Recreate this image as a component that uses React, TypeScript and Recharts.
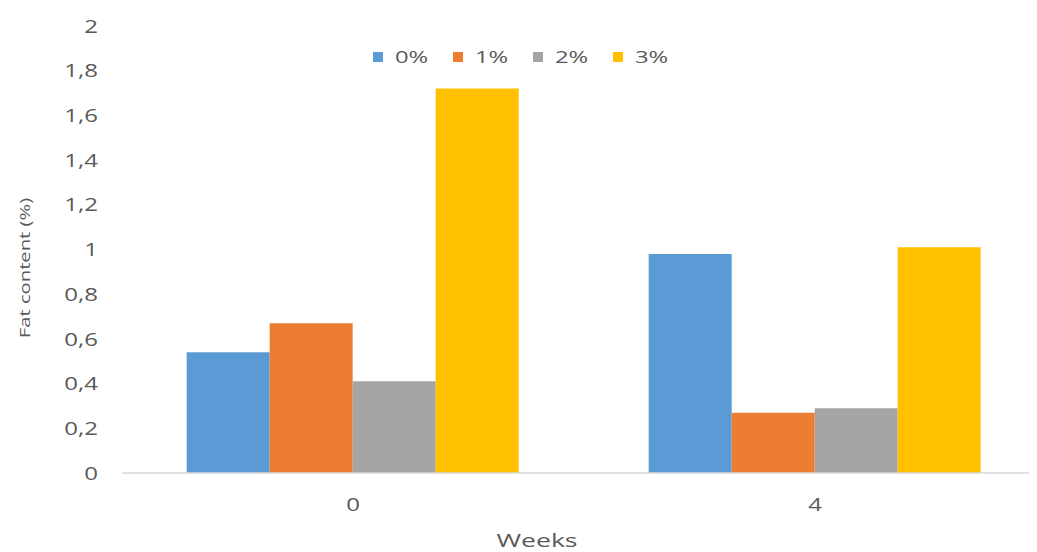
import React from 'react';
import { BarChart, Bar, XAxis, YAxis, Legend } from 'recharts';

const weeks = ['0', '4'];
const seriesNames = ['0%', '1%', '2%', '3%'];
const series0 = [0.54, 0.98];
const series1 = [0.67, 0.27];
const series2 = [0.41, 0.29];
const series3 = [1.72, 1.01];
const yTicks = [0, 0.2, 0.4, 0.6, 0.8, 1, 1.2, 1.4, 1.6, 1.8, 2];
const yTickLabels = ['0', '0,2', '0,4', '0,6', '0,8', '1', '1,2', '1,4', '1,6', '1,8', '2'];
const colors = ['#5B9BD5', '#ED7D31', '#A5A5A5', '#FFC000'];
const yTitle = 'Fat content (%)';
const xTitle = 'Weeks';

const seriesValues = [series0, series1, series2, series3];
const data = weeks.map((w, i) => {
  const row: Record<string, string | number> = { week: w };
  seriesNames.forEach((s, k) => {
    row[s] = seriesValues[k][i];
  });
  return row;
});

const FONT = '"Open Sans", sans-serif';
const TEXT = '#595959';

const YTick = (props: any) => {
  const { x, y, payload } = props;
  const idx = yTicks.findIndex((t) => Math.abs(t - payload.value) < 1e-9);
  const label = idx >= 0 ? yTickLabels[idx] : String(payload.value);
  return (
    <g transform={`translate(${x},${y})`}>
      <text transform="scale(1.3,1)" textAnchor="end" dy="0.36em" fill={TEXT} fontSize={18.5} fontFamily={FONT}>
        {label}
      </text>
    </g>
  );
};

const XTick = (props: any) => {
  const { x, y, payload } = props;
  return (
    <g transform={`translate(${x},${y})`}>
      <text transform="scale(1.3,1)" textAnchor="middle" dy="0.71em" fill={TEXT} fontSize={18.5} fontFamily={FONT}>
        {payload.value}
      </text>
    </g>
  );
};

const LegendContent = (props: any) => {
  const { payload } = props;
  return (
    <div style={{ display: 'flex', alignItems: 'center', height: 22 }}>
      {(payload || []).map((p: any) => (
        <div key={p.value} style={{ width: 80, display: 'flex', alignItems: 'center' }}>
          <span style={{ width: 10, height: 10, background: p.color, display: 'inline-block', marginRight: 12 }} />
          <span
            style={{
              display: 'inline-block',
              transform: 'scale(1.4,1)',
              transformOrigin: 'left center',
              fontFamily: FONT,
              fontSize: 17,
              color: TEXT,
              lineHeight: '22px',
            }}
          >
            {p.value}
          </span>
        </div>
      ))}
    </div>
  );
};

export default function App() {
  return (
    <div style={{ width: 1029, height: 544, overflow: 'hidden', background: '#fff' }}>
      <BarChart
        width={1050}
        height={544}
        data={data}
        margin={{ top: 18, right: 12, bottom: 19, left: 0 }}
        barCategoryGap="14%"
        barGap={0}
      >
        <XAxis
          dataKey="week"
          height={60}
          axisLine={{ stroke: '#D9D9D9', strokeWidth: 1.5 }}
          tickLine={false}
          tickSize={0}
          tickMargin={25}
          tick={<XTick />}
          label={{
            content: (p: any) => {
              const vb = p.viewBox || { y: 465 };
              return (
                <text
                  transform={`translate(529,${vb.y + 74}) scale(1.4,1)`}
                  textAnchor="middle"
                  fill={TEXT}
                  fontSize={19}
                  fontFamily={FONT}
                >
                  {xTitle}
                </text>
              );
            },
          }}
        />
        <YAxis
          width={114}
          domain={[0, 2]}
          ticks={yTicks}
          interval={0}
          axisLine={false}
          tickLine={false}
          tickSize={0}
          tickMargin={24}
          tick={<YTick />}
          label={{
            content: () => (
              <text
                transform="translate(17,260) rotate(-90) scale(1.35,1)"
                textAnchor="middle"
                dy="0.35em"
                fill={TEXT}
                fontSize={15}
                fontFamily={FONT}
              >
                {yTitle}
              </text>
            ),
          }}
        />
        <Legend
          layout="horizontal"
          verticalAlign="middle"
          align="center"
          wrapperStyle={{ top: 38, left: 365, width: 'auto' }}
          content={<LegendContent />}
        />
        {seriesNames.map((s, k) => (
          <Bar key={s} dataKey={s} fill={colors[k]} isAnimationActive={false} />
        ))}
      </BarChart>
    </div>
  );
}
